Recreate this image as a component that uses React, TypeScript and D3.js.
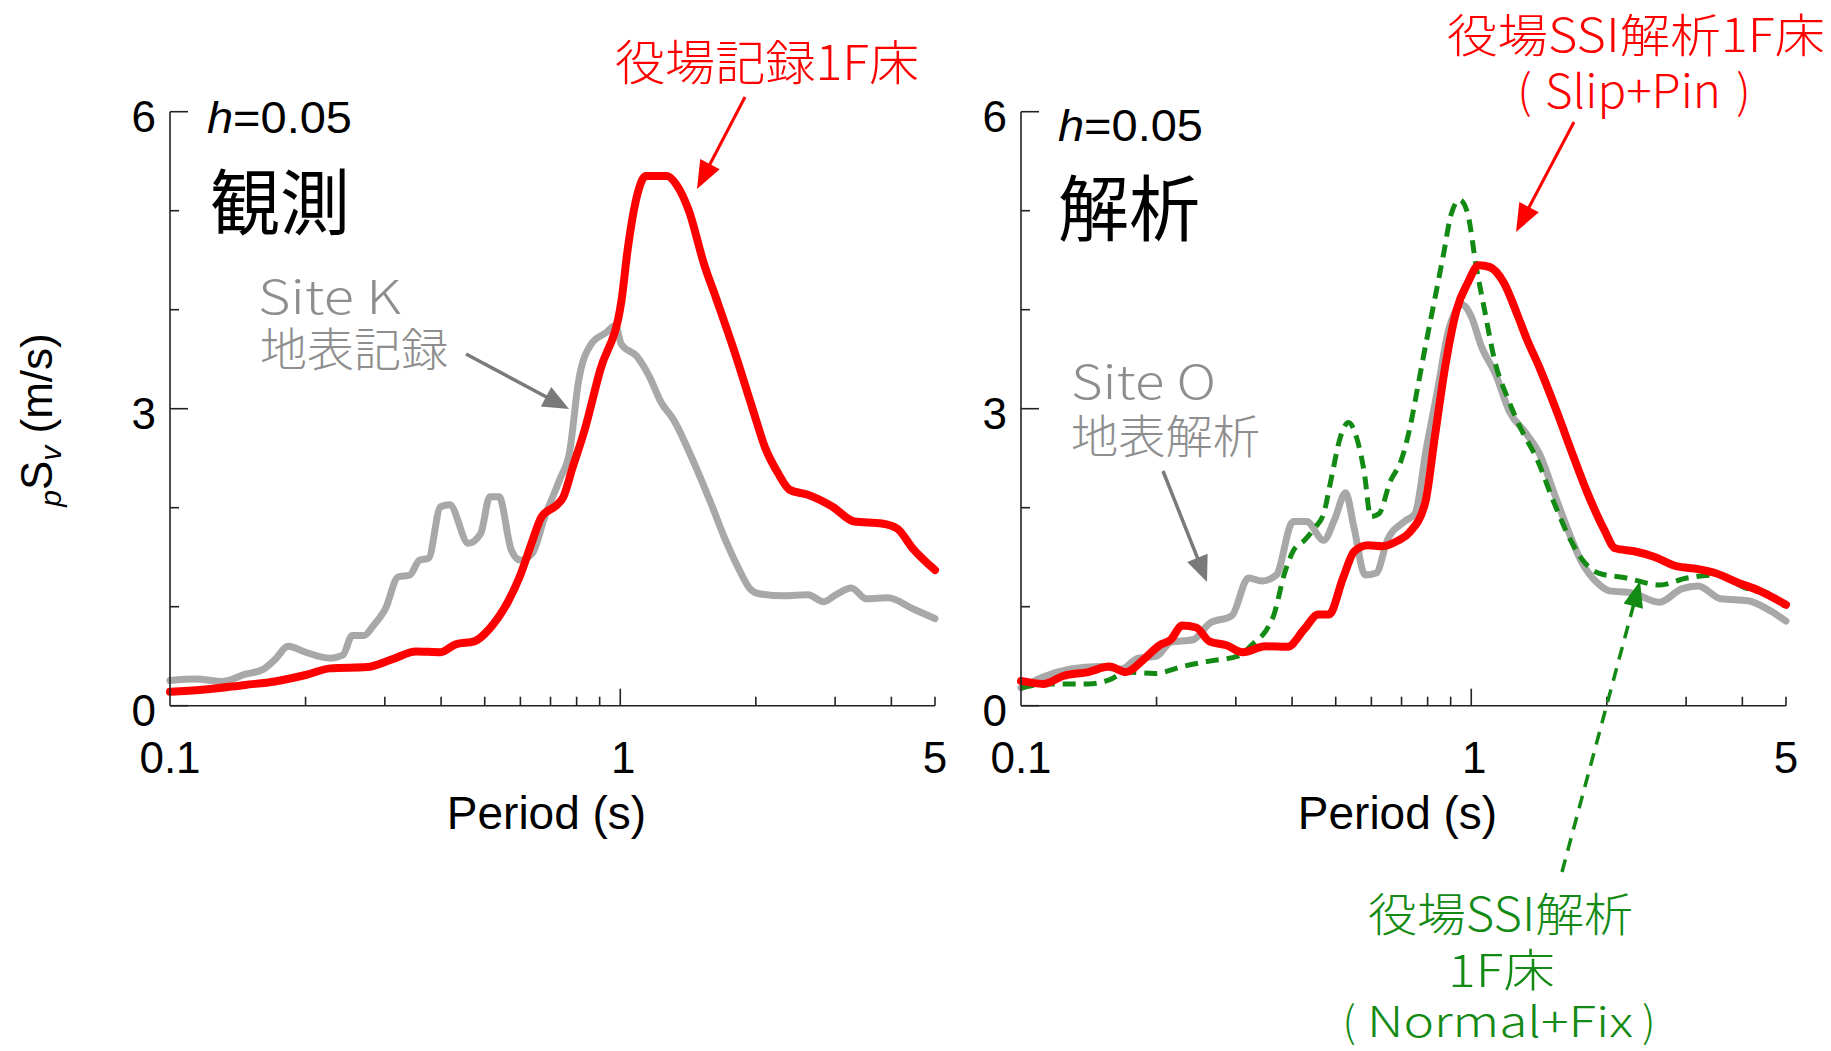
import React from "react";
import * as d3 from "d3";

// ---------- data ----------
const xTickMajor = [0.1, 1, 5];
const xTickMinor = [0.2, 0.3, 0.4, 0.5, 0.6, 0.7, 0.8, 0.9, 2, 3, 4, 5];
const yTickMajor = [0, 3, 6];
const yTickMinor = [1, 2, 4, 5];

// 観測: 役場記録1F床 (red)
const obsFloorT = [0.1, 0.118, 0.147, 0.171, 0.2, 0.227, 0.274, 0.31, 0.352, 0.399, 0.431, 0.474, 0.513, 0.563, 0.6, 0.638, 0.669, 0.724, 0.747, 0.783, 0.834, 0.901, 1.006, 1.038, 1.088, 1.14, 1.27, 1.334, 1.42, 1.535, 1.634, 1.795, 1.97, 2.1, 2.24, 2.38, 2.61, 2.96, 3.31, 3.81, 4.12, 4.46, 5.0];
const obsFloorV = [0.14, 0.16, 0.21, 0.245, 0.31, 0.377, 0.39, 0.465, 0.548, 0.54, 0.62, 0.65, 0.78, 1.05, 1.32, 1.665, 1.91, 2.03, 2.105, 2.4, 2.79, 3.38, 4.09, 4.6, 5.14, 5.35, 5.35, 5.26, 5.0, 4.46, 4.11, 3.57, 2.99, 2.6, 2.35, 2.18, 2.13, 2.01, 1.86, 1.84, 1.79, 1.59, 1.37];

// 観測: Site K 地表記録 (gray)
const obsSiteT = [0.1, 0.114, 0.131, 0.147, 0.161, 0.171, 0.183, 0.2, 0.227, 0.242, 0.254, 0.27, 0.283, 0.301, 0.321, 0.341, 0.358, 0.375, 0.399, 0.418, 0.46, 0.49, 0.513, 0.538, 0.573, 0.6, 0.638, 0.68, 0.736, 0.771, 0.808, 0.861, 0.931, 0.975, 1.006, 1.088, 1.159, 1.234, 1.313, 1.443, 1.585, 1.714, 1.825, 1.942, 2.035, 2.31, 2.61, 2.83, 3.01, 3.26, 3.52, 3.93, 4.46, 5.0];
const obsSiteV = [0.255, 0.27, 0.245, 0.318, 0.367, 0.465, 0.6, 0.54, 0.48, 0.51, 0.71, 0.71, 0.81, 0.98, 1.3, 1.32, 1.47, 1.49, 2.01, 2.03, 1.64, 1.74, 2.11, 2.11, 1.57, 1.47, 1.54, 1.91, 2.3, 2.55, 3.28, 3.65, 3.77, 3.84, 3.65, 3.53, 3.33, 3.06, 2.89, 2.5, 2.06, 1.67, 1.4, 1.18, 1.13, 1.11, 1.12, 1.05, 1.12, 1.19, 1.08, 1.09, 0.98, 0.88];

// 解析: 役場SSI解析1F床 (Slip+Pin) (red)
const ssiSlipT = [0.1, 0.112, 0.124, 0.141, 0.157, 0.171, 0.187, 0.203, 0.215, 0.228, 0.245, 0.262, 0.286, 0.311, 0.349, 0.391, 0.426, 0.457, 0.483, 0.519, 0.55, 0.59, 0.633, 0.689, 0.729, 0.79, 0.829, 0.877, 0.928, 0.982, 1.04, 1.1, 1.182, 1.268, 1.324, 1.422, 1.549, 1.663, 1.811, 1.972, 2.087, 2.3, 2.545, 2.853, 3.19, 3.48, 3.9, 4.37, 5.0];
const ssiSlipV = [0.25, 0.22, 0.3, 0.34, 0.395, 0.34, 0.466, 0.61, 0.666, 0.81, 0.79, 0.65, 0.61, 0.54, 0.6, 0.596, 0.774, 0.92, 0.92, 1.29, 1.56, 1.62, 1.61, 1.67, 1.75, 2.05, 2.7, 3.45, 4.0, 4.27, 4.45, 4.43, 4.27, 3.94, 3.72, 3.4, 2.97, 2.59, 2.15, 1.78, 1.59, 1.56, 1.505, 1.41, 1.38, 1.34, 1.245, 1.16, 1.02];

// 解析: Site O 地表解析 (gray)
const anaSiteT = [0.1, 0.112, 0.129, 0.149, 0.167, 0.182, 0.2, 0.215, 0.241, 0.262, 0.294, 0.32, 0.343, 0.369, 0.402, 0.431, 0.47, 0.497, 0.526, 0.549, 0.581, 0.615, 0.651, 0.71, 0.75, 0.794, 0.841, 0.889, 0.955, 0.998, 1.055, 1.132, 1.216, 1.324, 1.422, 1.527, 1.638, 1.759, 1.916, 2.028, 2.27, 2.62, 2.93, 3.19, 3.58, 4.12, 4.61, 5.0];
const anaSiteV = [0.18, 0.29, 0.37, 0.395, 0.37, 0.48, 0.5, 0.64, 0.666, 0.83, 0.91, 1.29, 1.26, 1.32, 1.86, 1.86, 1.67, 1.88, 2.15, 1.8, 1.32, 1.34, 1.67, 1.86, 1.94, 2.59, 3.18, 3.78, 4.05, 3.94, 3.62, 3.35, 2.97, 2.75, 2.53, 2.15, 1.78, 1.45, 1.23, 1.16, 1.14, 1.045, 1.18, 1.21, 1.08, 1.06, 0.96, 0.855];

// 解析: 役場SSI解析1F床 (Normal+Fix) (green dashed)
const ssiFixT = [0.1, 0.115, 0.141, 0.157, 0.171, 0.198, 0.228, 0.262, 0.303, 0.33, 0.349, 0.364, 0.385, 0.402, 0.426, 0.45, 0.47, 0.49, 0.511, 0.534, 0.557, 0.578, 0.598, 0.624, 0.66, 0.699, 0.73, 0.762, 0.794, 0.829, 0.866, 0.903, 0.943, 0.982, 1.026, 1.07, 1.132, 1.199, 1.288, 1.403, 1.527, 1.663, 1.783, 1.916, 2.21, 2.62, 3.01, 3.48, 4.12, 4.61, 5.0];
const ssiFixV = [0.18, 0.22, 0.22, 0.26, 0.34, 0.325, 0.395, 0.45, 0.5, 0.64, 0.75, 0.91, 1.34, 1.56, 1.67, 1.8, 1.94, 2.32, 2.7, 2.86, 2.7, 2.37, 1.91, 1.94, 2.26, 2.48, 2.8, 3.24, 3.67, 4.1, 4.54, 4.97, 5.11, 4.97, 4.43, 4.0, 3.45, 3.13, 2.8, 2.48, 2.05, 1.67, 1.45, 1.34, 1.29, 1.22, 1.29, 1.32, 1.18, 1.13, 0.99];

// ---------- layout ----------
const W = 1831;
const H = 1051;
const PLOT_W = 765;
const Y_TOP = 111.7;
const Y_BOT = 705.7;
const RED = "#ff0000";
const GRAY_LINE = "#a8a8a8";
const GRAY_TEXT = "#8e8e8e";
const GREEN = "#138a13";
const LATIN = "'Liberation Sans', Arial, Helvetica, sans-serif";
const JP = "'Noto Sans CJK JP', 'Noto Sans', sans-serif";

function zip(t: number[], v: number[]) {
  return t.map((d, i) => [d, v[i]] as [number, number]);
}

function Arrow({ x1, y1, x2, y2, color, width, head, headW, dash }: any) {
  const dx = x2 - x1;
  const dy = y2 - y1;
  const len = Math.sqrt(dx * dx + dy * dy);
  const ux = dx / len;
  const uy = dy / len;
  const bx = x2 - ux * head;
  const by = y2 - uy * head;
  const px = -uy * headW / 2;
  const py = ux * headW / 2;
  return (
    <g>
      <line x1={x1} y1={y1} x2={bx + ux * 2} y2={by + uy * 2} stroke={color} strokeWidth={width} strokeDasharray={dash} />
      <polygon points={`${x2},${y2} ${bx + px},${by + py} ${bx - px},${by - py}`} fill={color} />
    </g>
  );
}

// A label of the form （inner） drawn as three pieces so the wide brackets keep their spacing
function Bracketed({ x1, x2, innerX1, innerX2, y, size, color, text }: any) {
  return (
    <g fill={color} fontFamily={JP} fontSize={size} fontWeight={300}>
      <text x={x1 - size * 0.06} y={y}>(</text>
      <text x={innerX1} y={y} textLength={innerX2 - innerX1} lengthAdjust="spacingAndGlyphs">
        {text}
      </text>
      <text x={x2 + size * 0.06} y={y} textAnchor="end">)</text>
    </g>
  );
}

function Panel({ x0, series }: { x0: number; series: any[] }) {
  const x = d3.scaleLog().domain([0.1, 5]).range([x0, x0 + PLOT_W]);
  const y = d3.scaleLinear().domain([0, 6]).range([Y_BOT, Y_TOP]);
  const line = d3
    .line<[number, number]>()
    .x((d) => x(d[0]))
    .y((d) => y(d[1]))
    .curve(d3.curveMonotoneX);
  const axisColor = "#222";
  return (
    <g>
      {series.map((s, i) => (
        <path
          key={i}
          d={line(zip(s.t, s.v)) || ""}
          fill="none"
          stroke={s.color}
          strokeWidth={s.width}
          strokeDasharray={s.dash}
          strokeLinejoin="round"
          strokeLinecap={s.dash ? "butt" : "round"}
        />
      ))}
      <line x1={x0} y1={Y_TOP} x2={x0} y2={Y_BOT} stroke={axisColor} strokeWidth={1.6} />
      <line x1={x0} y1={Y_BOT} x2={x0 + PLOT_W} y2={Y_BOT} stroke={axisColor} strokeWidth={1.6} />
      {yTickMajor.map((v) => (
        <line key={"ym" + v} x1={x0} x2={x0 + 18} y1={y(v)} y2={y(v)} stroke={axisColor} strokeWidth={1.6} />
      ))}
      {yTickMinor.map((v) => (
        <line key={"yn" + v} x1={x0} x2={x0 + 9} y1={y(v)} y2={y(v)} stroke={axisColor} strokeWidth={1.6} />
      ))}
      {xTickMajor.filter((t) => t === 1).map((t) => (
        <line key={"xm" + t} x1={x(t)} x2={x(t)} y1={Y_BOT} y2={Y_BOT - 17} stroke={axisColor} strokeWidth={1.6} />
      ))}
      {xTickMinor.map((t) => (
        <line key={"xn" + t} x1={x(t)} x2={x(t)} y1={Y_BOT} y2={Y_BOT - 9} stroke={axisColor} strokeWidth={1.6} />
      ))}
      {xTickMajor.map((t) => (
        <text key={"xl" + t} x={x(t) + (t === 1 ? 3 : 0)} y={773} textAnchor="middle" fontFamily={LATIN} fontSize={44} fill="#000">
          {String(t)}
        </text>
      ))}
      {yTickMajor.map((v) => (
        <text key={"yl" + v} x={x0 - 14} y={y(v) + 20} textAnchor="end" fontFamily={LATIN} fontSize={44} fill="#000">
          {String(v)}
        </text>
      ))}
      <text x={x0 + PLOT_W / 2 - 6} y={829} textAnchor="middle" fontFamily={LATIN} fontSize={46} fill="#000">
        Period (s)
      </text>
    </g>
  );
}

export default function App() {
  return (
    <svg
      width={W}
      height={H}
      viewBox={`0 0 ${W} ${H}`}
      style={{ position: "absolute", left: 0, top: 0, display: "block", background: "#fff" }}
    >
      <rect x={0} y={0} width={W} height={H} fill="#fff" />
      <Panel
        x0={170}
        series={[
          { t: obsSiteT, v: obsSiteV, color: GRAY_LINE, width: 7 },
          { t: obsFloorT, v: obsFloorV, color: RED, width: 8 },
        ]}
      />
      <Panel
        x0={1021}
        series={[
          { t: anaSiteT, v: anaSiteV, color: GRAY_LINE, width: 7 },
          { t: ssiFixT, v: ssiFixV, color: GREEN, width: 5, dash: "13 8" },
          { t: ssiSlipT, v: ssiSlipV, color: RED, width: 8 },
        ]}
      />

      {/* y axis title */}
      <g transform="translate(52,420) rotate(-90)">
        <text textAnchor="middle" fontFamily={LATIN} fontSize={44} fill="#000">
          <tspan fontSize={30} fontStyle="italic" dy={9}>p</tspan>
          <tspan fontSize={44} dy={-9}>S</tspan>
          <tspan fontSize={30} fontStyle="italic" dy={9}>v</tspan>
          <tspan fontSize={44} dy={-9}> (m/s)</tspan>
        </text>
      </g>

      {/* left panel annotations */}
      <text x={207} y={133} fontFamily={LATIN} fontSize={45} fill="#000" textLength={145} lengthAdjust="spacingAndGlyphs">
        <tspan fontStyle="italic">h</tspan>=0.05
      </text>
      <text x={210} y={229} fontFamily={JP} fontSize={72} fill="#000" textLength={140} lengthAdjust="spacingAndGlyphs">
        観測
      </text>
      <text x={258} y={314} fontFamily={JP} fontWeight={300} fontSize={46} fill={GRAY_TEXT} textLength={143} lengthAdjust="spacingAndGlyphs">
        Site K
      </text>
      <text x={260} y={366} fontFamily={JP} fontWeight={300} fontSize={46} fill={GRAY_TEXT} textLength={188} lengthAdjust="spacingAndGlyphs">
        地表記録
      </text>
      <Arrow x1={466} y1={354} x2={569} y2={409} color="#7a7a7a" width={3.5} head={26} headW={22} />
      <text x={615} y={80} fontFamily={JP} fontWeight={300} fontSize={48} fill={RED} textLength={304} lengthAdjust="spacingAndGlyphs">
        役場記録1F床
      </text>
      <Arrow x1={745} y1={97} x2={697} y2={189} color={RED} width={3} head={28} headW={22} />

      {/* right panel annotations */}
      <text x={1058} y={141} fontFamily={LATIN} fontSize={45} fill="#000" textLength={145} lengthAdjust="spacingAndGlyphs">
        <tspan fontStyle="italic">h</tspan>=0.05
      </text>
      <text x={1058} y={235} fontFamily={JP} fontSize={72} fill="#000" textLength={142} lengthAdjust="spacingAndGlyphs">
        解析
      </text>
      <text x={1071} y={399} fontFamily={JP} fontWeight={300} fontSize={46} fill={GRAY_TEXT} textLength={145} lengthAdjust="spacingAndGlyphs">
        Site O
      </text>
      <text x={1071} y={453} fontFamily={JP} fontWeight={300} fontSize={46} fill={GRAY_TEXT} textLength={189} lengthAdjust="spacingAndGlyphs">
        地表解析
      </text>
      <Arrow x1={1163} y1={471} x2={1207} y2={582} color="#7a7a7a" width={3.5} head={26} headW={22} />
      <text x={1447} y={52} fontFamily={JP} fontWeight={300} fontSize={46} fill={RED} textLength={378} lengthAdjust="spacingAndGlyphs">
        役場SSI解析1F床
      </text>
      <Bracketed x1={1520} x2={1748} innerX1={1545} innerX2={1721} y={108} size={46} color={RED} text="Slip+Pin" />
      <Arrow x1={1574} y1={122} x2={1516} y2={232} color={RED} width={3} head={28} headW={22} />

      <Arrow x1={1562} y1={872} x2={1640} y2={581} color={GREEN} width={3.5} head={26} headW={20} dash="13 9" />
      <text x={1368} y={931} fontFamily={JP} fontWeight={300} fontSize={46} fill={GREEN} textLength={265} lengthAdjust="spacingAndGlyphs">
        役場SSI解析
      </text>
      <text x={1448} y={987} fontFamily={JP} fontWeight={300} fontSize={45} fill={GREEN} textLength={107} lengthAdjust="spacingAndGlyphs">
        1F床
      </text>
      <Bracketed x1={1345} x2={1653} innerX1={1367} innerX2={1633} y={1037} size={42} color={GREEN} text="Normal+Fix" />
    </svg>
  );
}
